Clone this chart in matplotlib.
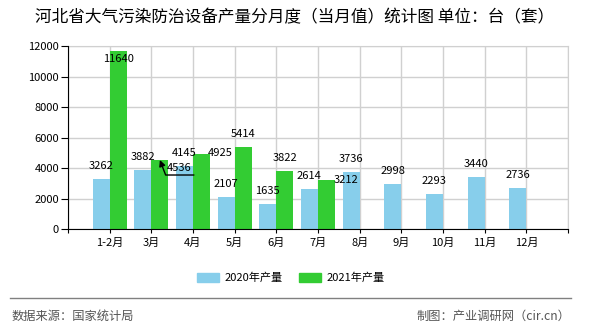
import numpy as np
import matplotlib.pyplot as plt
from matplotlib.lines import Line2D
from matplotlib.patches import Patch

plt.rcParams['font.family'] = ['Noto Sans CJK SC', 'DejaVu Sans']

months = ["1-2月", "3月", "4月", "5月", "6月", "7月", "8月", "9月", "10月", "11月", "12月"]
y2020 = [3262, 3882, 4145, 2107, 1635, 2614, 3736, 2998, 2293, 3440, 2736]
y2021 = [11640, 4536, 4925, 5414, 3822, 3212]
yticks = [0, 2000, 4000, 6000, 8000, 10000, 12000]

title = "河北省大气污染防治设备产量分月度（当月值）统计图 单位：台（套）"
BLUE = "#87ceeb"
GREEN = "#33cc33"

fig = plt.figure(figsize=(5.9, 3.3), dpi=100)
ax = fig.add_axes([68 / 590, 1 - 229.3 / 330, 500 / 590, 183.3 / 330])

x = np.arange(len(months))
w = 0.41
ax.bar(x - w / 2, y2020, w, color=BLUE, zorder=2)
x2 = x[:len(y2021)]
ax.bar(x2 + w / 2, y2021, w, color=GREEN, zorder=2)

ax.set_xlim(-1, 11)
ax.set_ylim(0, 12000)
ax.set_yticks(yticks)
ax.set_xticks(np.arange(-1, 12))
ax.set_xticklabels([""] + months + [""])
ax.grid(True, color="#d0d0d0", lw=1, zorder=0)
ax.set_axisbelow(True)
for s in ["top", "right"]:
    ax.spines[s].set_color("#d0d0d0")
for s in ["left", "bottom"]:
    ax.spines[s].set_color("black")
    ax.spines[s].set_zorder(3)
ax.tick_params(axis="x", length=3, pad=3, labelsize=8)
ax.tick_params(axis="y", length=5, pad=1.5, labelsize=8)

# value labels: default 13 px above the bar top, a few shifted to avoid overlaps
def label(xc, v, dx=0, dy=13):
    ax.annotate(str(v), xy=(xc, v), xytext=(dx, dy), textcoords="offset pixels",
                ha="center", va="center", fontsize=8, zorder=5)

for xi, v in zip(x - w / 2, y2020):
    label(xi, v)

shift = {0: (0, -8), 1: (19, -8), 2: (19, 1), 5: (19, 0)}
for i, (xi, v) in enumerate(zip(x2 + w / 2, y2021)):
    dx, dy = shift.get(i, (0, 13))
    label(xi, v, dx, dy)

# leader arrow for the 3月 2021 label
ax.annotate("", xy=(x2[1] + w / 2, y2021[1]), xytext=(34, -15), textcoords="offset pixels",
            arrowprops=dict(arrowstyle="-|>", color="black", lw=1, mutation_scale=9,
                            shrinkA=0, shrinkB=0,
                            connectionstyle="angle,angleA=0,angleB=-69,rad=0"),
            zorder=6)

fig.text(35 / 590, 1 - 18 / 330, title, ha="left", va="center", fontsize=12)

handles = [Patch(color=BLUE, label="2020年产量"), Patch(color=GREEN, label="2021年产量")]
fig.legend(handles=handles, loc="center", bbox_to_anchor=(0.493, 1 - 278 / 330), ncol=2,
           frameon=False, fontsize=8, handlelength=2.0, handleheight=0.8,
           handletextpad=0.5, columnspacing=1.45)

fig.add_artist(Line2D([10 / 590, 571 / 590], [1 - 298.3 / 330] * 2,
                      transform=fig.transFigure, color="#808080", lw=1))
fig.text(12 / 590, 1 - 316 / 330, "数据来源：国家统计局", ha="left", va="center",
         fontsize=8.8, color="#555555")
fig.text(570 / 590, 1 - 316 / 330, "制图：产业调研网（cir.cn）", ha="right", va="center",
         fontsize=8.8, color="#555555")

fig.savefig("out.png", dpi=100)
